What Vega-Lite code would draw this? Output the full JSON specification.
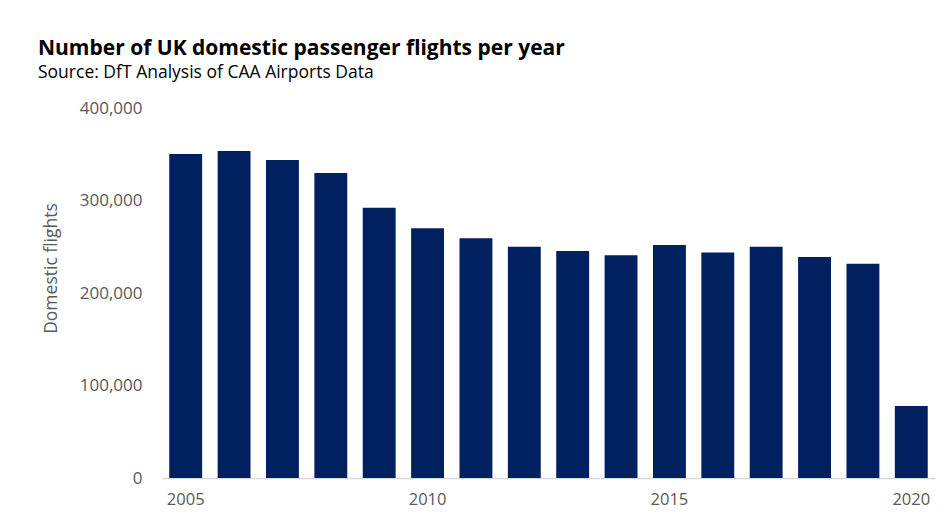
{
  "$schema": "https://vega.github.io/schema/vega-lite/v6.json",
  "autosize": {"type": "none"},
  "width": 773,
  "height": 370,
  "padding": {"left": 162, "top": 108, "right": 12, "bottom": 39},
  "background": "white",
  "config": {
    "view": {"stroke": null},
    "font": "Open Sans"
  },
  "title": {
    "text": "Number of UK domestic passenger flights per year",
    "subtitle": "Source: DfT Analysis of CAA Airports Data",
    "anchor": "start",
    "frame": "group",
    "dx": -124,
    "offset": 18,
    "font": "Open Sans",
    "fontSize": 21,
    "fontWeight": "bold",
    "color": "#000000",
    "subtitleFont": "Open Sans",
    "subtitleFontSize": 17.5,
    "subtitleColor": "#000000",
    "subtitlePadding": 5
  },
  "data": {
    "values": [
      {"year": "2005", "flights": 350200},
      {"year": "2006", "flights": 353500},
      {"year": "2007", "flights": 343700},
      {"year": "2008", "flights": 329700},
      {"year": "2009", "flights": 292100},
      {"year": "2010", "flights": 270100},
      {"year": "2011", "flights": 259300},
      {"year": "2012", "flights": 249900},
      {"year": "2013", "flights": 245300},
      {"year": "2014", "flights": 240900},
      {"year": "2015", "flights": 251800},
      {"year": "2016", "flights": 243800},
      {"year": "2017", "flights": 249900},
      {"year": "2018", "flights": 238800},
      {"year": "2019", "flights": 231500},
      {"year": "2020", "flights": 77900}
    ]
  },
  "mark": {"type": "bar", "color": "#002060"},
  "encoding": {
    "x": {
      "field": "year",
      "type": "ordinal",
      "scale": {"paddingInner": 0.32, "paddingOuter": 0.15},
      "axis": {
        "title": null,
        "labelAngle": 0,
        "labelExpr": "datum.value % 5 == 0 ? datum.value : ''",
        "ticks": false,
        "labelPadding": 13,
        "labelFontSize": 16.5,
        "labelColor": "#595959",
        "domainColor": "#d9d9d9",
        "domainWidth": 1.5,
        "grid": false
      }
    },
    "y": {
      "field": "flights",
      "type": "quantitative",
      "scale": {"domain": [0, 400000], "nice": false},
      "axis": {
        "title": "Domestic flights",
        "values": [0, 100000, 200000, 300000, 400000],
        "format": ",d",
        "domain": false,
        "ticks": false,
        "grid": false,
        "labelPadding": 20,
        "labelFontSize": 17,
        "labelColor": "#595959",
        "titleFontSize": 17.5,
        "titleFontWeight": "normal",
        "titleColor": "#595959",
        "titlePadding": 19,
        "titleY": 160
      }
    }
  }
}
